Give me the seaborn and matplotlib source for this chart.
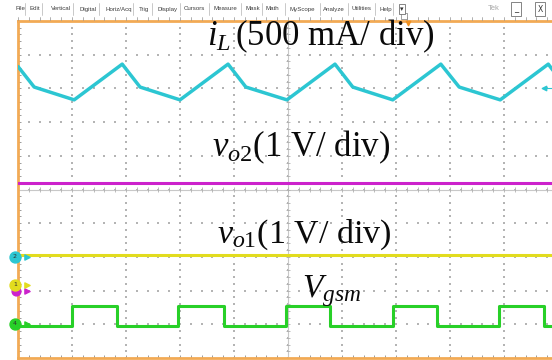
import matplotlib
matplotlib.use("Agg")
import matplotlib.pyplot as plt
import numpy as np
import pandas as pd
import seaborn as sns

# ---------------------------------------------------------------------------
# Readings off the scope screen, in divisions
# (x: 0..10 time div, y: -5..5 vertical div, 0 = centre line)
# ---------------------------------------------------------------------------

il_t = [0.0, 0.30, 1.04, 1.93, 2.26, 3.00, 3.89, 4.22, 4.98,
        5.87, 6.20, 6.94, 7.83, 8.17, 8.93, 9.82, 10.0]
il_v = [3.65, 3.04, 2.66, 3.72, 3.04, 2.66, 3.72, 3.04, 2.66,
        3.72, 3.04, 2.66, 3.72, 3.04, 2.66, 3.72, 3.34]

vo2_t = [0.0, 10.0]
vo2_v = [0.19, 0.19]

vo1_t = [0.0, 10.0]
vo1_v = [-1.94, -1.94]

gs_t = [0.0, 1.00, 1.83, 2.96, 3.81, 4.96, 5.78, 6.94, 7.76, 8.91, 9.74, 10.0]
gs_v = [-4.04, -3.47, -4.04, -3.47, -4.04, -3.47, -4.04, -3.47, -4.04, -3.47, -4.04, -4.04]

ch_labels = ["2", "1", "4"]
ch_levels = [-2.0, -2.83, -3.99]
ref_level = -3.0
trig_level = 3.01

menu_items = ["File", "Edit", "Vertical", "Digital", "Horiz/Acq", "Trig", "Display",
              "Cursors", "Measure", "Mask", "Math", "MyScope", "Analyze", "Utilities", "Help"]

# ---------------------------------------------------------------------------
# Styling
# ---------------------------------------------------------------------------

C_IL = "#2cc6d2"
C_VO2 = "#cc22cc"
C_VO1 = "#e2dc1e"
C_GS = "#28d028"
C_BORDER = "#f2aa55"
C_GRID = "#b4b4b4"

sns.set_style("white")
plt.rcParams["font.family"] = ["Liberation Serif", "DejaVu Serif"]
plt.rcParams["text.color"] = "#0a0a0a"
plt.rcParams["mathtext.fontset"] = "custom"
plt.rcParams["mathtext.rm"] = "Liberation Serif"
plt.rcParams["mathtext.it"] = "Liberation Serif:italic"

W, H = 552, 360
fig = plt.figure(figsize=(W / 100, H / 100), dpi=100)
fig.patch.set_facecolor("white")
# graticule: 10 x 54 px wide (cropped on the right), 10 x 33.7 px high
ax = fig.add_axes([18 / W, 2 / H, 540 / W, 337 / H])
ax.set_xlim(0, 10)
ax.set_ylim(-5, 5)

# dotted graticule
minor_x = np.arange(0, 10.001, 0.2)
minor_y = np.arange(-5, 5.001, 0.2)
gx, gy = np.meshgrid(np.arange(1, 10), minor_y)
ax.scatter(gx.ravel(), gy.ravel(), s=0.6, marker="s", color=C_GRID, linewidths=0, zorder=1)
gx, gy = np.meshgrid(minor_x, np.arange(-4, 5))
ax.scatter(gx.ravel(), gy.ravel(), s=0.6, marker="s", color=C_GRID, linewidths=0, zorder=1)

# centre crosshair with minor ticks
ax.axvline(5, color="#c8c8c8", lw=0.8, zorder=1)
ax.axhline(0, color="#c8c8c8", lw=0.8, zorder=1)
ax.hlines(minor_y, 5 - 0.04, 5 + 0.04, color="#b0b0b0", lw=0.6, zorder=1)
ax.vlines(minor_x, -0.07, 0.07, color="#b0b0b0", lw=0.6, zorder=1)

# traces
traces = [
    (il_t, il_v, C_IL, None, 2.5),
    (vo2_t, vo2_v, C_VO2, None, 2.2),
    (vo1_t, vo1_v, C_VO1, None, 2.2),
    (gs_t, gs_v, C_GS, "steps-post", 2.2),
]
for t, v, col, ds, lw in traces:
    df = pd.DataFrame({"t": t, "v": v})
    kw = {"drawstyle": ds} if ds else {}
    sns.lineplot(data=df, x="t", y="v", ax=ax, color=col, lw=lw,
                 sort=False, estimator=None, zorder=3, **kw)

ax.set_xlim(0, 10)
ax.set_ylim(-5, 5)
ax.set_xlabel("")
ax.set_ylabel("")

# border ticks
ax.set_xticks(np.arange(0, 10.01, 1))
ax.set_xticks(minor_x, minor=True)
ax.set_yticks(np.arange(-5, 5.01, 1))
ax.set_yticks(minor_y, minor=True)
ax.tick_params(which="both", direction="in", length=2.5, width=0.6, color="#8c8c8c",
               labelbottom=False, labelleft=False, left=True, bottom=True, top=False, right=False)
for side, sp in ax.spines.items():
    sp.set_color(C_BORDER)
    sp.set_linewidth(2.0)

# labels on the screen
ax.text(3.50, 4.29, r"$i_L\,$(500 mA/ div)", fontsize=25, ha="left", va="baseline", zorder=5)
ax.text(3.59, 0.99, r"$v_{o2}$(1 V/ div)", fontsize=25, ha="left", va="baseline", zorder=5)
ax.text(3.68, -1.59, r"$v_{o1}$(1 V/ div)", fontsize=24.5, ha="left", va="baseline", zorder=5)
ax.text(5.26, -3.19, r"$V_{gsm}$", fontsize=24, ha="left", va="baseline", zorder=5)

# channel ground markers on the left edge
ch_colors = [C_IL, C_VO1, C_GS]
ax.scatter([0.16], [ref_level], s=14, marker=">", color=C_VO2, clip_on=False, zorder=6)
ax.scatter([-0.03], [ref_level], s=40, marker="o", color=C_VO2, clip_on=False, zorder=6)
for lab, lev, col in zip(ch_labels, ch_levels, ch_colors):
    ax.scatter([0.16], [lev], s=14, marker=">", color=col, clip_on=False, zorder=7)
    ax.scatter([-0.056], [lev], s=62, marker="o", color=col, clip_on=False, zorder=7)
    ax.text(-0.056, lev, lab, fontsize=4.5, family="DejaVu Sans", ha="center", va="center",
            color="#303030", zorder=8, clip_on=False)

# trigger level marker (right) and horizontal position marker (top)
ax.scatter([9.74], [trig_level], s=10, marker="<", color=C_IL, clip_on=False, zorder=6)
ax.plot([9.74, 9.95], [trig_level, trig_level], color=C_IL, lw=0.8, clip_on=False, zorder=6)
ax.scatter([7.22], [4.95], s=10, marker="v", color="#f09020", clip_on=False, zorder=6)
ax.scatter([7.15], [5.16], s=18, marker="s", facecolor="white", edgecolor="#909090",
           linewidths=0.6, clip_on=False, zorder=6)

# menu bar
menu_x = [16, 29, 51, 79, 105, 139, 157, 184, 214, 246, 265, 290, 323, 352, 379]
sep_x = [25, 42, 73, 99, 133, 152, 180, 209, 241, 262, 285, 320, 348, 375, 393]
ymenu = 1 - 9 / H
for name, x in zip(menu_items, menu_x):
    fig.text(x / W, ymenu, name, fontsize=4.4, family="Liberation Sans",
             color="#3c3c3c", ha="left", va="center")
for x in sep_x:
    fig.add_artist(plt.Line2D([x / W, x / W], [1 - 3 / H, 1 - 15 / H],
                              color="#c0c0c0", lw=0.6))
fig.text(402 / W, ymenu, "\u25BE", fontsize=5, family="DejaVu Sans", color="#303030",
         ha="center", va="center",
         bbox=dict(boxstyle="square,pad=0.25", fc="white", ec="#707070", lw=0.6))
fig.text(488 / W, ymenu, "Tek", fontsize=5.5, family="Liberation Sans", color="#a8a8a8",
         ha="left", va="center")
fig.text(516 / W, ymenu, "_", fontsize=6, family="DejaVu Sans", color="#303030",
         ha="center", va="center",
         bbox=dict(boxstyle="square,pad=0.3", fc="white", ec="#707070", lw=0.6))
fig.text(540 / W, ymenu, "X", fontsize=5.5, family="DejaVu Sans", color="#303030",
         ha="center", va="center",
         bbox=dict(boxstyle="square,pad=0.3", fc="white", ec="#707070", lw=0.6))
# top ruler ticks above the border
for x in np.arange(18, 553, 10.8):
    fig.add_artist(plt.Line2D([x / W, x / W], [1 - 17 / H, 1 - 20 / H],
                              color="#909090", lw=0.5))

fig.savefig("out.png", dpi=100, facecolor="white")
